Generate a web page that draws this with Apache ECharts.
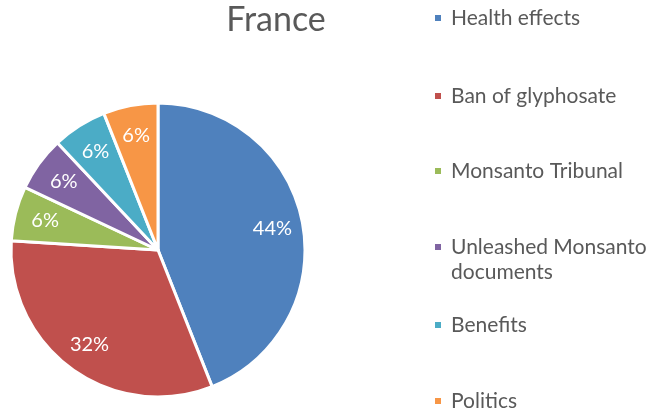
<!DOCTYPE html>
<html>
<head>
<meta charset="utf-8">
<script src="https://cdn.jsdelivr.net/npm/echarts@6/dist/echarts.min.js"></script>
<style>
  html, body { margin: 0; padding: 0; background: #fff; }
  #pie { width: 662px; height: 411px; }
</style>
</head>
<body>
<div id="pie"></div>
<script>
var categories = ['Health effects', 'Ban of glyphosate', 'Monsanto Tribunal', 'Unleashed Monsanto documents', 'Benefits', 'Politics'];
var shares = [44, 32, 6, 6, 6, 6];
var colors = ['#4f81bd', '#c0504d', '#9bbb59', '#8064a2', '#4bacc6', '#f79646'];
// legend row centres (px), one legend per item so the spacing follows the original
var legendRows = [18, 96, 171, 259.5, 325, 401];

var font = 'Lato';
var pieData = categories.map(function (n, i) {
  return { name: n, value: shares[i], itemStyle: { color: colors[i] } };
});

var chart = echarts.init(document.getElementById('pie'));

var legends = categories.map(function (n, i) {
  var twoLines = n.length > 20;
  return {
    data: [n],
    orient: 'vertical',
    left: 433,
    top: legendRows[i] - (twoLines ? 25 : 12.5),
    padding: 0,
    // two-line item: square sits at the top of a taller box so it lines up with the first line
    icon: twoLines ? 'path://M0,0h8v8h-8z M0,33h0.01' : 'rect',
    itemWidth: 8,
    itemHeight: twoLines ? 33 : 8,
    selectedMode: false,
    formatter: function (name) {
      return name.length > 20 ? name.replace(/ (\S+)$/, '\n$1') : name;
    },
    textStyle: {
      fontFamily: font,
      fontSize: 21,
      color: '#595959',
      lineHeight: 25,
      padding: [0, 0, 0, 4]
    }
  };
});

var option = {
  backgroundColor: '#fff',
  animation: false,
  title: {
    text: 'France',
    left: 271,
    top: -2,
    textAlign: 'center',
    textStyle: { fontFamily: font, fontSize: 34, fontWeight: 'normal', color: '#595959' }
  },
  legend: legends,
  series: [{
      name: 'France',
      type: 'pie',
      center: [158, 250],
      radius: 147,
      startAngle: 90,
      clockwise: true,
      itemStyle: { borderColor: '#fff', borderWidth: 3 },
      label: { show: false },
      labelLine: { show: false },
      data: pieData
    },
    {
      // label ring only: puts the percentages at ~78% of the radius
      name: 'labels',
      type: 'pie',
      silent: true,
      center: [158, 250],
      radius: [80, 147],
      startAngle: 90,
      clockwise: true,
      itemStyle: { color: 'rgba(0,0,0,0)' },
      label: {
        show: true,
        position: 'inside',
        formatter: '{d}%',
        fontFamily: font,
        fontSize: 20,
        color: '#fff'
      },
      labelLine: { show: false },
      data: categories.map(function (n, i) { return { name: n, value: shares[i] }; })
    }
  ]
};
chart.setOption(option);
</script>
</body>
</html>
